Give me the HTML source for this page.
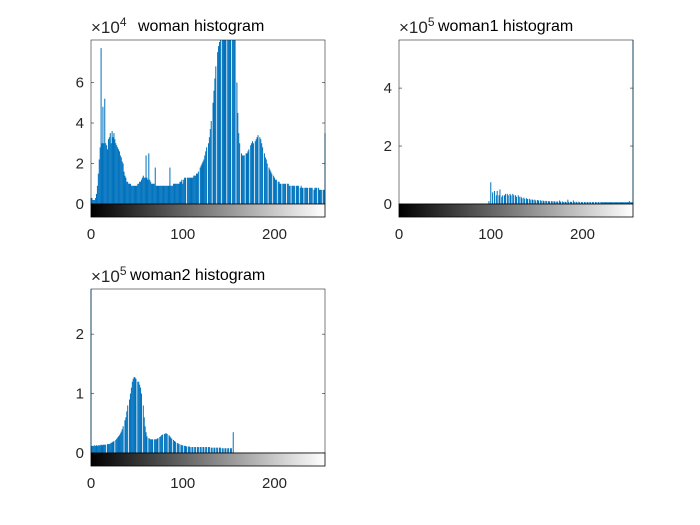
<!DOCTYPE html>
<html><head><meta charset="utf-8">
<style>
html,body{margin:0;padding:0;background:#fff;}
svg{display:block;font-family:"Liberation Sans",Arial,sans-serif;}
</style></head>
<body>
<svg id="fig" width="700" height="525" viewBox="0 0 700 525">
<defs>
<linearGradient id="gray" x1="0" x2="1" y1="0" y2="0"><stop offset="0" stop-color="#000"/><stop offset="1" stop-color="#fff"/></linearGradient>
</defs>
</svg>
<script>
// ---- data (units: 1e4 for woman, 1e5 for woman1/woman2) ----
const xTickValues = [0, 100, 200];
const womanTicks = [0, 2, 4, 6];
const woman1Ticks = [0, 2, 4];
const woman2Ticks = [0, 1, 2];
const womanCounts = [
0.3,0.3,0.2,0.2,0.2,0.3,0.5,0.9,1.5,2.2,2.8,7.7,3.0,4.8,3.0,5.2,
3.0,2.9,2.7,3.2,3.3,3.5,3.0,3.6,3.3,3.5,3.2,3.0,2.9,2.8,2.7,2.6,
2.4,2.3,2.1,2.0,1.6,1.4,1.3,1.1,1.1,1.0,1.0,1.0,0.9,0.9,0.9,0.9,
0.9,0.9,0.9,1.0,1.0,1.1,1.1,1.2,1.3,1.4,1.3,1.3,2.4,1.3,1.2,2.5,
1.2,1.1,1.0,1.0,1.0,1.0,1.8,0.9,0.9,0.9,0.9,0.9,0.9,0.9,0.9,0.9,
0.9,0.9,0.9,0.9,0.9,0.9,1.8,0.9,0.9,0.9,1.0,1.0,1.0,1.0,1.0,1.0,
1.0,1.1,1.1,1.2,1.0,1.2,1.3,1.3,0,1.3,1.3,1.3,1.3,1.3,1.3,1.3,
1.4,1.4,1.4,1.5,1.5,1.6,0,1.8,1.9,2.0,2.1,2.2,2.4,2.6,2.8,0,
3.0,3.3,3.7,4.1,0,5.0,5.6,6.2,6.8,0,7.5,7.8,8.0,8.5,0,9,
9,9,9,9,0,9,9,9,9,0,9,9,9,9,0,6,
4.5,3.5,3.0,0,2.5,2.4,2.4,2.4,0,2.5,2.5,2.6,2.7,0,2.9,3.0,
3.1,3.0,0,3.1,3.2,3.3,3.4,0,3.3,3.2,3.0,2.8,0,2.5,2.3,2.2,
2.0,0,1.8,1.7,1.6,1.5,0,1.4,1.3,1.2,1.2,0,1.1,1.1,1.0,1.0,
0,1.0,1.0,1.0,1.0,0,1.0,1.0,0.9,0.9,0,0.9,0.9,0.9,0.9,0,
0.9,0.9,0.9,0,0.8,0.9,0.8,0.8,0,0.8,0.8,0.8,0.8,0,0.8,0.8,
0.8,0.8,0,0.7,0.8,0.8,0.8,0,0.8,0.7,0.7,0.7,0,0.7,0.7,3.5];
const woman1Counts = [
0,0,0,0,0,0,0,0,0,0,0,0,0,0,0,0,
0,0,0,0,0,0,0,0,0,0,0,0,0,0,0,0,
0,0,0,0,0,0,0,0,0,0,0,0,0,0,0,0,
0,0,0,0,0,0,0,0,0,0,0,0,0,0,0,0,
0,0,0,0,0,0,0,0,0,0,0,0,0,0,0,0,
0,0,0,0,0,0,0,0,0,0,0,0,0,0,0,0,
0,0,0.1,0,0.75,0,0.4,0,0.45,0,0.3,0.45,0,0.3,0.5,0,
0.25,0.3,0,0.3,0.35,0,0.35,0.3,0,0.35,0.3,0,0.35,0.3,0,0.3,
0.25,0,0.3,0.25,0,0.25,0.2,0,0.22,0.18,0,0.2,0.17,0,0.18,0.15,
0,0.16,0.14,0,0.15,0.12,0,0.14,0.12,0,0.13,0.11,0,0.12,0.1,0,
0.11,0.1,0,0.1,0.09,0,0.1,0.09,0,0.1,0.08,0,0.09,0.08,0,0.12,
0.08,0,0.09,0.07,0,0.08,0.07,0,0.15,0.07,0,0.08,0.07,0,0.12,0.07,
0,0.08,0.06,0,0.08,0.06,0,0.07,0.06,0,0.07,0.06,0,0.07,0.06,0,
0.07,0.06,0,0.07,0.06,0,0.07,0.06,0,0.07,0.06,0,0.07,0.06,0.06,0.06,
0.06,0.06,0.06,0.06,0.06,0.06,0.06,0.06,0.06,0.06,0.06,0.06,0.06,0.06,0.06,0.06,
0.06,0.06,0.06,0.06,0.06,0.06,0.06,0.06,0.06,0.06,0.06,0.1,0.06,0.06,0.06,5.8];
const woman2Counts = [
3.0,0.12,0.12,0.12,0.13,0.12,0.13,0.12,0.13,0.13,0.13,0.14,0.13,0.14,0.14,0.14,
0.14,0,0.15,0.15,0.15,0.16,0.17,0.18,0.19,0.2,0,0.22,0.24,0.26,0.28,0.3,
0.33,0.36,0.4,0.45,0,0.55,0.6,0.7,0.8,0,0.9,1.0,1.1,1.2,1.25,1.28,
1.27,1.25,0,1.2,1.2,1.15,1.1,1.0,0,0.8,0.6,0.45,0.35,0.28,0,0.25,
0.24,0.23,0.23,0.23,0,0.23,0.23,0.23,0.24,0.25,0,0.27,0.28,0.3,0.31,0,
0.32,0.33,0.33,0.32,0,0.3,0.28,0.26,0.24,0,0.22,0.2,0.19,0,0.17,0.16,
0.15,0,0.14,0.13,0.13,0,0.12,0.12,0.11,0,0.11,0.11,0.1,0,0.1,0.1,
0,0.1,0.1,0,0.1,0.1,0,0.1,0.1,0,0.1,0.1,0,0.1,0.1,0,
0.1,0.1,0,0.09,0.09,0,0.09,0.09,0,0.09,0.09,0,0.09,0.09,0,0.08,
0.08,0,0.08,0.08,0,0.08,0.08,0,0.08,0.08,0,0.35,0,0,0,0,
0,0,0,0,0,0,0,0,0,0,0,0,0,0,0,0,
0,0,0,0,0,0,0,0,0,0,0,0,0,0,0,0,
0,0,0,0,0,0,0,0,0,0,0,0,0,0,0,0,
0,0,0,0,0,0,0,0,0,0,0,0,0,0,0,0,
0,0,0,0,0,0,0,0,0,0,0,0,0,0,0,0,
0,0,0,0,0,0,0,0,0,0,0,0,0,0,0,0];

const NS = "http://www.w3.org/2000/svg";
const svg = document.getElementById('fig');
function mk(tag, attrs, parent){
  const e = document.createElementNS(NS, tag);
  for (const k in attrs) e.setAttribute(k, attrs[k]);
  (parent||svg).appendChild(e);
  return e;
}
function panel(id, counts, yTicks, yMax, exp, title, L, R, T, B){
  const g = mk('g', {});
  
  
  const xs = v => L + (v / 255) * (R - L);
  const ys = v => B - (v / yMax) * (B - T);
  const bars = mk('g', {fill:'#0072BD'}, g);
  
  
  counts.forEach((c, i) => {
    if (c <= 0) return;
    const top = Math.max(T, ys(c));
    const r = mk('rect', {x: xs(i) - 0.5, y: top, width: 1.0, height: B - top}, bars);
    
    
  });
  const f = mk('rect', {x:L, y:T, width:R-L, height:B-T, fill:'none', stroke:'#262626', 'stroke-width':0.6}, g);
  
  
  yTicks.forEach(t => {
    const y = ys(t);
    mk('line', {x1:L, x2:L+3, y1:y, y2:y, stroke:'#262626', 'stroke-width':0.6}, g);
    mk('line', {x1:R, x2:R-3, y1:y, y2:y, stroke:'#262626', 'stroke-width':0.6}, g);
    const tx = mk('text', {x:L-7, y:y+5, 'text-anchor':'end', 'font-size':15, fill:'#262626'}, g);
    tx.textContent = t;
    
    
  });
  const cb = mk('rect', {x:L, y:B, width:R-L, height:13, fill:'url(#gray)', stroke:'#000', 'stroke-width':0.8}, g);
  
  
  xTickValues.forEach(t => {
    const tx = mk('text', {x:xs(t), y:B+35, 'text-anchor':'middle', 'font-size':15, fill:'#262626'}, g);
    tx.textContent = t;
    
    
  });
  const ex = mk('text', {x:L, y:T-7, 'font-size':17, fill:'#262626'}, g);
  
  
  ex.appendChild(document.createTextNode('\u00d710'));
  const sup = mk('tspan', {dy:-7, 'font-size':12}, ex);
  sup.textContent = exp;
  const ti = mk('text', {x:(exp=='4') ? L+47 : L+39, y:T-9, 'font-size':16, fill:'#000'}, g);
  ti.textContent = title;
  
  
}
panel('woman', womanCounts, womanTicks, 8.1, '4', 'woman histogram', 91, 325, 40, 204);
panel('woman1', woman1Counts, woman1Ticks, 5.66, '5', 'woman1 histogram', 399, 633, 40, 204);
panel('woman2', woman2Counts, woman2Ticks, 2.76, '5', 'woman2 histogram', 91, 325, 289, 453);
</script>
</body></html>
